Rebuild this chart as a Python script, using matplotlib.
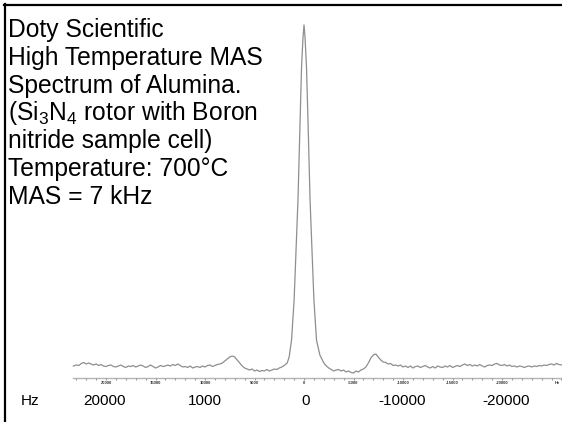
import matplotlib
matplotlib.use("Agg")
import matplotlib.pyplot as plt

plt.rcParams['font.family'] = ['Liberation Sans', 'DejaVu Sans']
plt.rcParams['mathtext.fontset'] = 'custom'
plt.rcParams['mathtext.rm'] = 'Liberation Sans'
plt.rcParams['mathtext.it'] = 'Liberation Sans:italic'

# Spectrum: frequency (kHz) and relative intensity
left_freq_khz = [23.3, 23.0, 22.75, 22.5, 22.25, 22.0, 21.75, 21.5, 21.25, 21.0, 20.75, 20.5,
                 20.25, 20.0, 19.75, 19.5, 19.25, 19.0, 18.75, 18.5, 18.25, 18.0, 17.75, 17.5,
                 17.25, 17.0, 16.75, 16.5, 16.25, 16.0, 15.75, 15.5, 15.25, 15.0, 14.75, 14.5,
                 14.25, 14.0, 13.75, 13.5, 13.25, 13.0, 12.75, 12.5, 12.25, 12.0, 11.75, 11.5,
                 11.25, 11.0, 10.75, 10.5, 10.25, 10.0, 9.75, 9.5, 9.25, 9.0, 8.75, 8.5,
                 8.25, 8.0, 7.75, 7.5, 7.25, 7.0, 6.75, 6.5, 6.25, 6.0, 5.75, 5.5,
                 5.25, 5.0, 4.75, 4.5, 4.25, 4.0, 3.75, 3.5, 3.25, 3.0, 2.75, 2.5,
                 2.25, 2.0]
left_intensity = [1, 2, 1.5, 3.5, 4.5, 3, 4, 3, 2, 3, 1.5, 2.5,
                  1, 0.5, 1.5, 2, 0.5, 0, 1, 2, 0.5, -0.5, 1, 0.5,
                  1.5, 0, 1, 2, 1, -0.5, 0.5, 2, 0.5, -1, 0, 1.5,
                  0.5, 1, 2, 1, 2.5, 1.5, 3, 1.5, 0, 0.5, -0.5, 1,
                  -1, 0, 0.5, -0.5, 1, 0, 1.5, 2, 0.5, 1.5, 2.5, 3,
                  4, 6, 8, 10, 11, 10, 7, 4, 1, -1, -2, -3,
                  -2, -4, -3, -4.5, -3.5, -4, -2.5, -4, -3, -2, -2.5, -1,
                  0, 1.5]

peak_freq_khz = [1.7, 1.5, 1.26, 1.0, 0.61, 0.4, 0.25, 0.1, 0.0,
                 -0.1, -0.25, -0.4, -0.61, -1.0, -1.26, -1.6]
peak_intensity = [4, 10, 27, 67, 167, 247, 300, 330, 342,
                  330, 300, 247, 167, 67, 27, 12]

right_freq_khz = [-2.0, -2.25, -2.5, -2.75, -3.0, -3.25, -3.5, -3.75, -4.0, -4.25, -4.5, -4.75,
                  -5.0, -5.25, -5.5, -5.75, -6.0, -6.25, -6.5, -6.75, -7.0, -7.25, -7.5, -7.75,
                  -8.0, -8.25, -8.5, -8.75, -9.0, -9.25, -9.5, -9.75, -10.0, -10.25, -10.5, -10.75,
                  -11.0, -11.25, -11.5, -11.75, -12.0, -12.25, -12.5, -12.75, -13.0, -13.25, -13.5, -13.75,
                  -14.0, -14.25, -14.5, -14.75, -15.0, -15.25, -15.5, -15.75, -16.0, -16.25, -16.5, -16.75,
                  -17.0, -17.25, -17.5, -17.75, -18.0, -18.25, -18.5, -18.75, -19.0, -19.25, -19.5, -19.75,
                  -20.0, -20.25, -20.5, -20.75, -21.0, -21.25, -21.5, -21.75, -22.0, -22.25, -22.5, -22.75,
                  -23.0, -23.25, -23.5, -23.75, -24.0, -24.25, -24.5, -24.75, -25.0, -25.25, -25.5, -25.75,
                  -26.06]
right_intensity = [4, 1, -1, -2.5, -4, -3, -2.5, -4, -3, -5, -4, -5.5,
                   -6, -4, -5, -3, -2, 0, 4, 9, 12, 13, 10, 7,
                   5, 4.5, 3, 3.5, 1.5, 2, 1, 2, 0, 1, -0.5, 1,
                   -1, 0.5, 1, -0.5, 0.5, 1.5, 0, -1, 0.5, -1, 1, 0,
                   -0.5, 1, 0, 1.5, -0.5, 0.5, 1.5, 0.5, 2, 3, 1.5, 2.5,
                   1, 2, 1, 2.5, 1, 0, 1.5, 2, 1.5, 3, 3.5, 2,
                   1.5, 2.5, 1, 2, 0.5, 1, 0, 1, 0.5, -0.5, 0.5, 1,
                   0, 1, 0.5, 1.5, 1, 2, 1.5, 2.5, 3, 2, 3.5, 2.5,
                   2]

# inner (small) axis ticks, kHz
minor_ticks_khz = list(range(23, -27, -1))
major_ticks_khz = [20, 15, 10, 5, 0, -5, -10, -15, -20]
major_tick_text = ["20000", "15000", "10000", "5000", "0", "-5000", "-10000", "-15000", "-20000"]

# large labels along the bottom
bottom_labels = ["Hz", "20000", "1000", "0", "-10000", "-20000"]
bottom_label_x = [30, 104.5, 205, 305.5, 402.5, 506]  # pixel positions (layout)

caption_lines = ["Doty Scientific",
                 "High Temperature MAS",
                 "Spectrum of Alumina.",
                 "(Si$_3$N$_4$ rotor with Boron",
                 "nitride sample cell)",
                 "Temperature: 700\u00b0C",
                 "MAS = 7 kHz"]

W, H = 562, 422
fig = plt.figure(figsize=(W / 100, H / 100), dpi=100)
fig.patch.set_facecolor('white')
ax = fig.add_axes([0, 0, 1, 1])
ax.set_xlim(30.71, -26.06)
ax.set_ylim(-55, 367)
ax.axis('off')

freq = left_freq_khz + peak_freq_khz + right_freq_khz
inten = left_intensity + peak_intensity + right_intensity
ax.plot(freq, inten, color='#8e8e8e', lw=0.9, solid_joinstyle='round')

# inner axis line with ticks
axis_y = -10.5
ax.plot([minor_ticks_khz[0] + 0.3, -26.06], [axis_y, axis_y], color='#b4b4b4', lw=1.0)
ax.vlines(minor_ticks_khz, axis_y - 2.0, axis_y, color='#9a9a9a', lw=0.8)
for v, t in zip(major_ticks_khz, major_tick_text):
    ax.text(v, axis_y - 6.0, t, fontsize=3.0, color='#333333', ha='center', va='center',
            fontweight='bold')
ax.text(-25.6, axis_y - 6.0, "Hz", fontsize=3.0, color='#333333', ha='center', va='center',
        fontweight='bold')

# bottom labels
for x, t in zip(bottom_label_x, bottom_labels):
    fig.text(x / W, 1 - 401 / H, t, fontsize=11, ha='center', va='center', color='black')

# caption
line_step = 27.7
first_baseline = 37.3
for i, t in enumerate(caption_lines):
    fig.text(8 / W, 1 - (first_baseline + i * line_step) / H, t, fontsize=17.7,
             ha='left', va='baseline', color='black')

# frame (top and left only)
fig.add_artist(plt.Line2D([4.8 / W, 4.8 / W], [0, 1 - 3.5 / H], color='black', lw=1.6,
                          transform=fig.transFigure))
fig.add_artist(plt.Line2D([4.0 / W, 1], [1 - 4.5 / H, 1 - 4.5 / H], color='black', lw=1.6,
                          transform=fig.transFigure))

fig.savefig('out.png', dpi=100, facecolor='white')
